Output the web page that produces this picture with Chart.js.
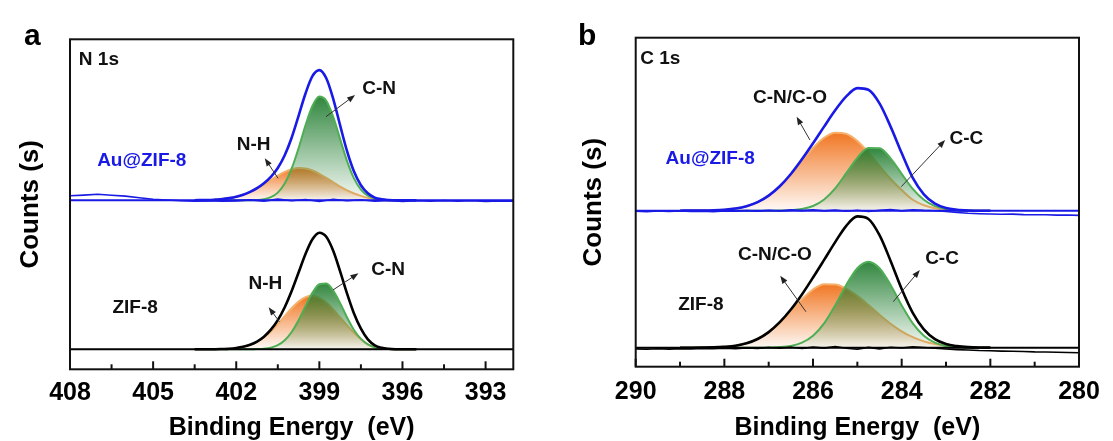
<!DOCTYPE html>
<html>
<head>
<meta charset="utf-8">
<script src="https://cdn.jsdelivr.net/npm/chart.js@4.4.1/dist/chart.umd.min.js"></script>
<style>
  html, body { margin: 0; padding: 0; background: #fff; }
  #wrap { position: relative; width: 1113px; height: 441px; }
  #panelA { position: absolute; left: 0; top: 0; }
  #panelB { position: absolute; left: 560px; top: 0; }
</style>
</head>
<body>
<div id="wrap">
  <canvas id="panelA" width="560" height="441"></canvas>
  <canvas id="panelB" width="553" height="441"></canvas>
</div>
<script>
// ---- (a) N 1s ----
var energyA = [403.5, 403.25, 403, 402.75, 402.5, 402.25, 402, 401.75, 401.5, 401.25, 401, 400.75, 400.5, 400.25, 400, 399.75, 399.5,
  399.25, 399, 398.75, 398.5, 398.25, 398, 397.75, 397.5, 397.25, 397, 396.75, 396.5, 396.25, 396, 395.75, 395.5];
var cnAu  = [0, 0, 0, 0, 0, 0, 0, 0, 0.1, 0.3, 1.1, 3.1, 7.7, 16.7, 31.6, 52.1, 75.0, 94.3, 103.7, 99.6, 83.5, 61.2, 39.2, 21.9, 10.7, 4.6, 1.7, 0.6, 0.2, 0, 0, 0, 0];
var nhAu  = [0.1, 0.2, 0.3, 0.7, 1.2, 2.2, 3.6, 5.6, 8.3, 11.8, 15.9, 20.3, 24.6, 28.4, 31.0, 32.3, 31.8, 29.8, 26.5, 22.4, 18.0, 13.7, 9.9, 6.8, 4.4, 2.4, 1.0, 0.4, 0.1, 0, 0, 0, 0];
var fitAu = [0.1, 0.2, 0.3, 0.7, 1.2, 2.2, 3.6, 5.6, 8.4, 12.1, 17.0, 23.4, 32.3, 45.1, 62.6, 84.4, 106.8, 124.1, 130.2, 122.0, 101.5, 74.9, 49.1, 28.7, 15.1, 7.0, 2.7, 1.0, 0.3, 0, 0, 0, 0];
var cnZif  = [0, 0, 0, 0, 0, 0, 0, 0, 0, 0.2, 0.6, 1.7, 4.1, 9.0, 17.3, 29.1, 43.2, 56.5, 65.0, 65.8, 58.7, 46.1, 31.8, 19.3, 10.4, 4.9, 2.0, 0.7, 0.2, 0, 0, 0, 0];
var nhZif  = [0, 0, 0.1, 0.1, 0.3, 0.6, 1.3, 2.5, 4.5, 7.5, 12.0, 17.9, 25.1, 33.1, 41.0, 47.7, 52.1, 53.5, 51.6, 46.7, 39.8, 31.8, 23.9, 16.5, 10.2, 5.0, 2.0, 0.8, 0.3, 0.1, 0, 0, 0];
var fitZif = [0, 0, 0.1, 0.1, 0.3, 0.6, 1.3, 2.5, 4.5, 7.7, 12.6, 19.6, 29.2, 42.1, 58.3, 76.8, 95.3, 110.0, 116.6, 112.5, 98.5, 77.9, 55.7, 35.8, 20.6, 9.9, 4.0, 1.5, 0.5, 0.1, 0, 0, 0];
var rawEnergyA = [408, 407.5, 407, 406.5, 406, 405.5, 405, 404.5, 404, 403.5, 403, 402.5, 402, 401.5, 401, 400.5, 400,
  399.5, 399, 398.5, 398, 397.5, 397, 396.5, 396, 395.5, 395, 394.5, 394, 393.5, 393, 392.5, 392];
var rawAuA = [4.5, 5.2, 6.0, 5.0, 4.2, 2.5, 1.0, 0.3, -0.5, -0.8, -0.3, -1.0, -0.6, 0.4, -0.8, 1.2, -0.5,
  0.8, -1.2, 1.0, -0.4, 0.6, -0.9, -0.2, -1.1, -0.4, -0.9, -0.3, -1.0, -0.5, -1.2, -0.6, -0.9];
var offsetsA = [169, 20];
var ticksA = [408, 405, 402, 399, 396, 393];
var minorA = [406.5, 403.5, 400.5, 397.5, 394.5];

// ---- (b) C 1s ----
var energyB = [289, 288.75, 288.5, 288.25, 288, 287.75, 287.5, 287.25, 287, 286.75, 286.5, 286.25, 286, 285.75, 285.5,
  285.25, 285, 284.75, 284.5, 284.25, 284, 283.75, 283.5, 283.25, 283, 282.75, 282.5, 282.25, 282];
var cnoAu  = [0, 0.1, 0.1, 0.4, 1.0, 2.2, 4.5, 8.6, 15.1, 24.3, 36.2, 49.7, 62.7, 72.9, 78.0, 76.8, 69.7, 58.2, 44.8, 31.7, 20.7, 11.0, 5.5, 2.5, 1.0, 0.4, 0.1, 0, 0];
var ccAu   = [0, 0, 0, 0, 0, 0, 0, 0, 0, 0.1, 0.5, 1.7, 4.7, 11.2, 22.4, 37.5, 52.9, 62.7, 62.5, 52.4, 36.9, 21.8, 10.9, 4.5, 1.6, 0.5, 0.1, 0, 0];
var fitAuB = [0, 0.1, 0.1, 0.4, 1.0, 2.2, 4.5, 8.6, 15.1, 24.4, 36.7, 51.4, 67.4, 84.1, 100.4, 114.3, 122.6, 120.9, 107.3, 84.1, 57.6, 32.8, 16.4, 7.0, 2.6, 0.9, 0.2, 0, 0];
var cnoZif  = [0, 0, 0.1, 0.3, 0.9, 2.0, 4.4, 8.7, 15.4, 24.9, 36.4, 48.3, 58.2, 63.5, 63.3, 59.1, 51.8, 42.7, 33.0, 24.0, 16.4, 10.5, 6.3, 3.6, 1.9, 1.0, 0.4, 0.2, 0.1];
var ccZif   = [0, 0, 0, 0, 0, 0, 0, 0, 0.2, 0.6, 1.8, 5.0, 12.0, 24.3, 42.3, 62.8, 79.5, 86.0, 79.5, 62.8, 42.3, 24.3, 12.0, 5.0, 1.8, 0.6, 0.2, 0, 0];
var fitZifB = [0, 0, 0.1, 0.3, 0.9, 2.0, 4.4, 8.7, 15.6, 25.5, 38.2, 53.3, 70.2, 87.8, 105.6, 121.9, 131.3, 128.7, 112.5, 86.8, 58.7, 34.8, 18.3, 8.6, 3.7, 1.6, 0.6, 0.2, 0.1];
var rawEnergyB = [290, 289.75, 289.5, 289.25, 289, 288.75, 288.5, 288.25, 288, 287.75, 287.5, 287.25, 287, 286.75, 286.5, 286.25, 286,
  285.75, 285.5, 285.25, 285, 284.75, 284.5, 284.25, 284, 283.75, 283.5, 283.25, 283, 282.75, 282.5, 282.25, 282,
  281.75, 281.5, 281.25, 281, 280.75, 280.5, 280.25, 280];
var rawAuB = [-0.5, -1.0, -0.3, -0.8, -0.2, -0.7, -0.4, -0.9, -0.2, -0.6, 0.2, -0.4, 0.5, -0.3, 0.8, 0.1, 1.0,
  -0.2, 0.6, -0.5, 0.4, -0.8, 0.3, 1.2, -0.2, 0.9, 0.3, 0.0, -0.8, -1.8, -2.6, -3.0, -3.3,
  -3.6, -3.4, -3.9, -4.1, -4.0, -4.4, -4.3, -4.7];
var rawZifB = [-1.2, -1.5, -1.0, -1.4, -0.9, -1.3, -0.7, -1.1, -0.5, -0.9, -0.3, -0.7, 0.2, -0.5, 0.4, -0.8, 0.6,
  -0.4, 1.2, -0.6, -1.5, 0.3, -1.2, 0.5, -0.3, 0.8, 0.2, -0.6, -1.3, -1.9, -2.3, -2.8, -3.0,
  -3.4, -3.6, -3.8, -4.2, -4.3, -4.6, -4.8, -5.0];
var offsetsB = [156, 19];
var ticksB = [290, 288, 286, 284, 282, 280];
var minorB = [289, 287, 285, 283, 281];

var samples = ['Au@ZIF-8', 'ZIF-8'];

var FONT = '"Liberation Sans", Arial, Helvetica, sans-serif';
var BLUE = '#1a1ae6';
var GREEN = '#4fae55';
var ORANGE = '#f6b06a';

function pts(xs, ys, off) {
  return xs.map(function(x, i) { return {x: x, y: ys[i] + off}; });
}

function fade(rgb, base, vals) {
  var peak = Math.max.apply(null, vals);
  return function(c) {
    var chart = c.chart;
    if (!chart.chartArea) return 'rgba(0,0,0,0)';
    var y = chart.scales.y;
    var g = chart.ctx.createLinearGradient(0, y.getPixelForValue(base + peak), 0, y.getPixelForValue(base));
    g.addColorStop(0, 'rgba(' + rgb + ',0.95)');
    g.addColorStop(1, 'rgba(' + rgb + ',0.04)');
    return g;
  };
}

function fitLine(label, xs, ys, off, color, width) {
  return {label: label, data: pts(xs, ys, off), borderColor: color, borderWidth: width,
    pointRadius: 0, fill: false, cubicInterpolationMode: 'monotone'};
}
function peak(label, xs, ys, off, color, rgb) {
  return {label: label, data: pts(xs, ys, off), borderColor: color, borderWidth: 2,
    pointRadius: 0, cubicInterpolationMode: 'monotone',
    fill: {value: off}, backgroundColor: fade(rgb, off, ys)};
}
function raw(label, xs, ys, off, color) {
  return {label: label, data: pts(xs, ys, off), borderColor: color, borderWidth: 1.6,
    pointRadius: 0, fill: false, tension: 0};
}
function flat(label, x0, x1, off, color) {
  return {label: label, data: [{x: x0, y: off}, {x: x1, y: off}], borderColor: color,
    borderWidth: 2, pointRadius: 0, fill: false};
}

var decor = {
  id: 'decor',
  afterDraw: function(chart) {
    var o = chart.options.plugins.decor;
    var ctx = chart.ctx, a = chart.chartArea, xs = chart.scales.x, ys = chart.scales.y;
    ctx.save();
    ctx.strokeStyle = '#111';
    ctx.lineWidth = 2;
    function tick(v, len) {
      var px = xs.getPixelForValue(v);
      ctx.beginPath(); ctx.moveTo(px, a.bottom); ctx.lineTo(px, a.bottom - len); ctx.stroke();
    }
    o.major.forEach(function(v) { tick(v, 8); });
    o.minor.forEach(function(v) { tick(v, 5); });
    ctx.strokeRect(a.left, a.top, a.right - a.left, a.bottom - a.top);

    ctx.fillStyle = '#000';
    ctx.textAlign = 'left';
    ctx.textBaseline = 'alphabetic';
    ctx.font = 'bold 30px ' + FONT;
    ctx.fillText(o.letter, o.letterX, 45);

    // arrows
    ctx.strokeStyle = '#333';
    ctx.fillStyle = '#222';
    ctx.lineWidth = 1;
    o.arrows.forEach(function(ar) {
      var x0 = xs.getPixelForValue(ar[0]), y0 = ys.getPixelForValue(ar[1]);
      var x1 = xs.getPixelForValue(ar[2]), y1 = ys.getPixelForValue(ar[3]);
      var ang = Math.atan2(y1 - y0, x1 - x0);
      ctx.beginPath(); ctx.moveTo(x0, y0); ctx.lineTo(x1 - 5 * Math.cos(ang), y1 - 5 * Math.sin(ang)); ctx.stroke();
      ctx.beginPath();
      ctx.moveTo(x1, y1);
      ctx.lineTo(x1 - 8 * Math.cos(ang) + 3 * Math.sin(ang), y1 - 8 * Math.sin(ang) - 3 * Math.cos(ang));
      ctx.lineTo(x1 - 8 * Math.cos(ang) - 3 * Math.sin(ang), y1 - 8 * Math.sin(ang) + 3 * Math.cos(ang));
      ctx.closePath(); ctx.fill();
    });

    // labels
    ctx.font = 'bold 19px ' + FONT;
    ctx.textBaseline = 'middle';
    o.texts.forEach(function(t) {
      ctx.fillStyle = t.c || '#111';
      ctx.textAlign = t.align || 'center';
      ctx.fillText(t.t, xs.getPixelForValue(t.x), ys.getPixelForValue(t.y));
    });
    ctx.restore();
  }
};

function makeOptions(cfg) {
  return {
    responsive: false,
    animation: false,
    devicePixelRatio: 1,
    layout: {padding: {top: cfg.top, right: cfg.right, left: 0, bottom: 0}},
    plugins: {
      legend: {display: false},
      tooltip: {enabled: false},
      decor: cfg.decor
    },
    scales: {
      x: {
        type: 'linear', min: cfg.min, max: cfg.max, reverse: true,
        afterBuildTicks: function(s) { s.ticks = cfg.major.map(function(v) { return {value: v}; }); },
        afterFit: function(s) { s.height = cfg.xh; },
        grid: {display: false}, border: {display: false},
        ticks: {autoSkip: false, maxRotation: 0, padding: cfg.tickPad, color: '#000',
          font: {family: FONT, size: 25, weight: 'bold'},
          callback: function(v) { return String(v); }},
        title: {display: true, text: 'Binding Energy  (eV)', color: '#000',
          font: {family: FONT, size: 25, weight: 'bold'}, padding: {top: 0, bottom: -2}}
      },
      y: {
        min: 0, max: cfg.ymax,
        afterFit: function(s) { s.width = cfg.yw; },
        grid: {display: false}, border: {display: false},
        ticks: {display: false},
        title: {display: true, text: 'Counts (s)', color: '#000',
          font: {family: FONT, size: 26, weight: 'bold'}, padding: {top: cfg.yTitlePad, bottom: 0}}
      }
    }
  };
}

new Chart(document.getElementById('panelA'), {
  type: 'line',
  data: {datasets: [
    fitLine(samples[0], energyA, fitAu, offsetsA[0], BLUE, 2.6),
    raw(samples[0] + ' raw', rawEnergyA, rawAuA, offsetsA[0], BLUE),
    flat(samples[0] + ' bg', 408, 392, offsetsA[0], BLUE),
    peak('C-N', energyA, cnAu, offsetsA[0], GREEN, '38,128,52'),
    peak('N-H', energyA, nhAu, offsetsA[0], ORANGE, '240,112,24'),
    fitLine(samples[1], energyA, fitZif, offsetsA[1], '#000', 2.6),
    flat(samples[1] + ' bg', 408, 392, offsetsA[1], '#000'),
    peak('C-N', energyA, cnZif, offsetsA[1], GREEN, '38,128,52'),
    peak('N-H', energyA, nhZif, offsetsA[1], ORANGE, '240,112,24')
  ]},
  options: makeOptions({
    top: 39.3, right: 46.7, xh: 71.7, yw: 70, ymax: 330, min: 392, max: 408,
    major: ticksA, tickPad: 0.5, yTitlePad: 15,
    decor: {
      letter: 'a', letterX: 24, major: ticksA, minor: minorA,
      texts: [
        {t: 'N 1s', x: 407.68, y: 309.6, align: 'left'},
        {t: samples[0], x: 405.41, y: 208.3, c: BLUE},
        {t: 'N-H', x: 401.37, y: 224.3},
        {t: 'C-N', x: 396.84, y: 281},
        {t: samples[1], x: 405.65, y: 61.3},
        {t: 'N-H', x: 400.95, y: 85.1},
        {t: 'C-N', x: 396.52, y: 100}
      ],
      arrows: [
        [400.49, 191, 400.97, 211],
        [398.76, 252.6, 397.71, 274.3],
        [400.44, 47.6, 400.83, 62],
        [398.51, 79.3, 397.59, 96]
      ]
    }
  }),
  plugins: [decor]
});

new Chart(document.getElementById('panelB'), {
  type: 'line',
  data: {datasets: [
    fitLine(samples[0], energyB, fitAuB, offsetsB[0], BLUE, 2.6),
    raw(samples[0] + ' raw', rawEnergyB, rawAuB, offsetsB[0], BLUE),
    flat(samples[0] + ' bg', 290, 280, offsetsB[0], BLUE),
    peak('C-C', energyB, ccAu, offsetsB[0], GREEN, '38,128,52'),
    peak('C-N/C-O', energyB, cnoAu, offsetsB[0], ORANGE, '240,112,24'),
    fitLine(samples[1], energyB, fitZifB, offsetsB[1], '#000', 2.6),
    raw(samples[1] + ' raw', rawEnergyB, rawZifB, offsetsB[1], '#000'),
    flat(samples[1] + ' bg', 290, 280, offsetsB[1], '#000'),
    peak('C-C', energyB, ccZif, offsetsB[1], GREEN, '38,128,52'),
    peak('C-N/C-O', energyB, cnoZif, offsetsB[1], ORANGE, '240,112,24')
  ]},
  options: makeOptions({
    top: 37.7, right: 34, xh: 74.3, yw: 75.7, ymax: 329, min: 280, max: 290,
    major: ticksB, tickPad: 2, yTitlePad: 18,
    decor: {
      letter: 'b', letterX: 18, major: ticksB, minor: minorB,
      texts: [
        {t: 'C 1s', x: 289.9, y: 308.4, align: 'left'},
        {t: samples[0], x: 288.32, y: 208.4, c: BLUE},
        {t: 'C-N/C-O', x: 286.52, y: 269.2},
        {t: 'C-C', x: 282.54, y: 227.7},
        {t: samples[1], x: 288.53, y: 61.7},
        {t: 'C-N/C-O', x: 286.86, y: 111.7},
        {t: 'C-C', x: 283.09, y: 108.4}
      ],
      arrows: [
        [286.07, 226.7, 286.37, 250],
        [284.01, 180, 283.02, 226.7],
        [286.16, 55, 286.74, 91],
        [284.19, 65, 283.59, 96.7]
      ]
    }
  }),
  plugins: [decor]
});
</script>
</body>
</html>
